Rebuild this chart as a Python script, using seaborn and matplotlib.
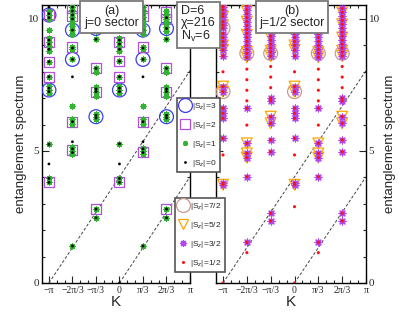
import numpy as np
import pandas as pd
import matplotlib
matplotlib.use("Agg")
import matplotlib.pyplot as plt
import seaborn as sns
from matplotlib.lines import Line2D
from matplotlib.ticker import MultipleLocator, FixedLocator

sns.set_style("ticks")
plt.rcParams["font.family"] = ["Liberation Sans", "DejaVu Sans"]
plt.rcParams["mathtext.fontset"] = "custom"
plt.rcParams["mathtext.rm"] = "Liberation Sans"
plt.rcParams["mathtext.it"] = "Liberation Sans:italic"

# ---------------- data ----------------
# momentum index k -> K = k*pi/3
K_TICK_IDX = [-3, -2, -1, 0, 1, 2, 3]
K_TICK_LABELS = ["\u2212\u03c0", "\u22122\u03c0/3", "\u2212\u03c0/3", "0", "\u03c0/3", "2\u03c0/3", "\u03c0"]
Y_TICKS = [0, 5, 10]
VELOCITY = 1.28
LINE_ORIGINS = [-np.pi, 0.0]

# panel (a): j=0 sector
A_SZ3 = {-3: [7.31, 10.15], -2: [8.47, 9.58], -1: [6.30, 9.64],
         0: [7.31, 10.15], 1: [8.47, 9.58], 2: [6.30, 9.64]}
A_SZ2 = {-3: [3.81, 7.81, 8.38, 9.14, 10.15], -2: [5.04, 6.11, 8.95, 10.1, 10.4],
         -1: [2.80, 7.25, 8.13, 10.0, 10.25],
         0: [3.81, 7.81, 8.40, 9.14, 10.15], 1: [4.96, 6.11, 8.95, 10.1, 10.4],
         2: [2.80, 7.25, 8.13, 10.0, 10.25]}
A_SZ1 = {-3: [3.81, 3.96, 5.25, 7.2, 7.31, 7.45, 7.81, 8.38, 8.80, 8.98, 9.14, 9.27, 9.58, 10.0, 10.15, 10.3],
         -2: [1.40, 4.87, 5.01, 5.14, 6.02, 6.2, 6.70, 8.47, 8.85, 8.95, 9.45, 9.6, 9.72, 9.93, 10.09, 10.22, 10.34, 10.47],
         -1: [2.47, 2.80, 6.2, 6.3, 6.42, 7.1, 7.25, 7.42, 8.0, 8.13, 9.23, 9.55, 9.7, 9.85, 10.0, 10.15, 10.3],
         0: [3.81, 3.96, 5.27, 7.2, 7.31, 7.45, 7.81, 8.40, 8.80, 8.98, 9.14, 9.27, 9.58, 10.0, 10.15, 10.3],
         1: [1.40, 4.87, 5.01, 5.10, 6.02, 6.2, 6.70, 8.47, 8.85, 8.95, 9.45, 9.6, 9.72, 9.93, 10.09, 10.22, 10.34, 10.47],
         2: [2.47, 2.80, 6.2, 6.3, 6.42, 7.1, 7.25, 7.42, 8.0, 8.13, 9.23, 9.55, 9.7, 9.85, 10.0, 10.15, 10.3]}
A_SZ0 = {-3: [3.81, 3.96, 4.51, 5.25, 7.25, 7.38, 7.81, 8.38, 8.85, 9.05, 9.2, 10.05, 10.2, 10.45],
         -2: [1.40, 4.94, 5.08, 5.35, 6.11, 7.81, 8.47, 8.9, 9.58, 10.0, 10.15, 10.3, 10.45],
         -1: [2.47, 2.80, 6.25, 6.35, 7.25, 7.35, 8.13, 9.23, 9.64, 10.05],
         0: [0.0, 3.81, 3.96, 4.51, 5.27, 7.25, 7.38, 7.81, 8.40, 8.85, 9.05, 9.2, 10.05, 10.2, 10.45],
         1: [1.40, 4.94, 5.08, 5.35, 6.11, 7.81, 8.47, 8.9, 9.58, 10.0, 10.15, 10.3, 10.45],
         2: [2.47, 2.80, 6.25, 6.35, 7.25, 7.35, 8.13, 9.23, 9.64, 10.05]}

# panel (b): j=1/2 sector
B_SZ72 = {-3: [7.25, 9.65], -2: [8.7], -1: [8.7], 0: [7.25, 9.65], 1: [8.7], 2: [8.7]}
B_SZ52 = {-3: [3.72, 7.25, 7.44, 8.83, 9.0, 9.77, 10.09, 10.47],
          -2: [4.75, 4.91, 5.29, 8.55, 8.75, 9.4, 9.9, 10.3],
          -1: [6.05, 6.3, 8.6, 8.8, 9.3, 9.8, 10.25],
          0: [3.72, 7.25, 7.44, 8.83, 9.0, 9.77, 10.09, 10.47],
          1: [4.75, 4.91, 5.29, 8.55, 8.75, 9.4, 9.9, 10.3],
          2: [6.05, 6.3, 8.6, 8.8, 9.3, 9.8, 10.25]}
B_SZ32 = {-3: [3.72, 3.78, 5.48, 6.24, 6.43, 6.62, 7.25, 7.44, 8.6, 8.83, 9.0, 9.15, 9.3, 9.45, 9.65, 9.77, 9.9, 10.09, 10.2, 10.35, 10.47],
          -2: [1.54, 4.03, 4.75, 4.91, 5.29, 6.62, 8.55, 8.7, 8.85, 9.0, 9.15, 9.3, 9.45, 9.6, 9.75, 9.9, 10.05, 10.2, 10.35, 10.5],
          -1: [2.35, 2.64, 4.97, 5.42, 6.05, 6.3, 6.9, 7.0, 8.6, 8.75, 8.9, 9.05, 9.2, 9.35, 9.5, 9.65, 9.8, 9.95, 10.1, 10.25, 10.4],
          0: [3.72, 3.78, 5.48, 6.24, 6.43, 6.62, 7.25, 7.44, 8.6, 8.83, 9.0, 9.15, 9.3, 9.45, 9.65, 9.77, 9.9, 10.09, 10.2, 10.35, 10.47],
          1: [1.54, 4.03, 4.75, 4.91, 5.29, 6.62, 8.55, 8.7, 8.85, 9.0, 9.15, 9.3, 9.45, 9.6, 9.75, 9.9, 10.05, 10.2, 10.35, 10.5],
          2: [2.35, 2.64, 4.97, 5.42, 6.05, 6.3, 6.9, 7.0, 8.6, 8.75, 8.9, 9.05, 9.2, 9.35, 9.5, 9.65, 9.8, 9.95, 10.1, 10.25, 10.4]}
B_SZ12 = {-3: [0.0, 2.89, 3.72, 3.78, 4.85, 5.48, 6.24, 6.43, 6.62, 7.25, 7.44, 8.0, 8.6, 8.83, 9.0, 9.15, 9.3, 9.45, 9.65, 9.77, 9.9, 10.09, 10.2, 10.35, 10.47],
          -2: [1.15, 1.54, 4.03, 4.75, 4.91, 5.29, 5.98, 6.62, 6.9, 7.3, 7.7, 8.1, 8.55, 8.7, 8.85, 9.0, 9.15, 9.3, 9.45, 9.6, 9.75, 9.9, 10.05, 10.2, 10.35, 10.5],
          -1: [2.35, 2.64, 4.97, 5.42, 6.05, 6.3, 6.9, 7.0, 7.4, 7.8, 8.2, 8.6, 8.75, 8.9, 9.05, 9.2, 9.35, 9.5, 9.65, 9.8, 9.95, 10.1, 10.25, 10.4],
          0: [0.0, 2.89, 3.72, 3.78, 4.85, 5.48, 6.24, 6.43, 6.62, 7.25, 7.44, 8.0, 8.6, 8.83, 9.0, 9.15, 9.3, 9.45, 9.65, 9.77, 9.9, 10.09, 10.2, 10.35, 10.47],
          1: [1.15, 1.54, 4.03, 4.75, 4.91, 5.29, 5.98, 6.62, 6.9, 7.3, 7.7, 8.1, 8.55, 8.7, 8.85, 9.0, 9.15, 9.3, 9.45, 9.6, 9.75, 9.9, 10.05, 10.2, 10.35, 10.5],
          2: [2.35, 2.64, 4.97, 5.42, 6.05, 6.3, 6.9, 7.0, 7.4, 7.8, 8.2, 8.6, 8.75, 8.9, 9.05, 9.2, 9.35, 9.5, 9.65, 9.8, 9.95, 10.1, 10.25, 10.4]}

A_LABELS = ["|S$_z$|=3", "|S$_z$|=2", "|S$_z$|=1", "|S$_z$|=0"]
B_LABELS = ["|S$_z$|=7/2", "|S$_z$|=5/2", "|S$_z$|=3/2", "|S$_z$|=1/2"]


def to_frame(d):
    rows = [(k * np.pi / 3, e) for k, es in d.items() for e in es]
    return pd.DataFrame(rows, columns=["K", "E"])


ASTER = (8, 2, 0)
A_STYLES = [
    dict(marker="o", s=100, facecolor="none", edgecolor="#3c3cf0", linewidth=0.9),
    dict(marker="s", s=52, facecolor="none", edgecolor="#b050dc", linewidth=0.9),
    dict(marker=ASTER, s=13, color="#2fb52f", linewidth=0.9),
    dict(marker="o", s=4, facecolor="black", edgecolor="none", linewidth=0),
]
B_STYLES = [
    dict(marker="o", s=100, facecolor="none", edgecolor="#c89a94", linewidth=0.9),
    dict(marker="v", s=60, facecolor="none", edgecolor="#ffa500", linewidth=0.9),
    dict(marker=ASTER, s=24, color="#b048f0", linewidth=0.9),
    dict(marker="o", s=5, facecolor="#ff1010", edgecolor="none", linewidth=0),
]
A_HANDLES = [
    Line2D([], [], ls="none", marker="o", ms=10, mfc="none", mec="#3c3cf0", mew=0.9),
    Line2D([], [], ls="none", marker="s", ms=7.2, mfc="none", mec="#b050dc", mew=0.9),
    Line2D([], [], ls="none", marker=ASTER, ms=3.6, color="#2fb52f", mew=0.9),
    Line2D([], [], ls="none", marker="o", ms=2, mfc="black", mec="none"),
]
B_HANDLES = [
    Line2D([], [], ls="none", marker="o", ms=10, mfc="none", mec="#c89a94", mew=0.9),
    Line2D([], [], ls="none", marker="v", ms=7.7, mfc="none", mec="#ffa500", mew=0.9),
    Line2D([], [], ls="none", marker=ASTER, ms=4.9, color="#b048f0", mew=0.9),
    Line2D([], [], ls="none", marker="o", ms=2.2, mfc="#ff1010", mec="none"),
]

fig = plt.figure(figsize=(4.11, 3.18), dpi=100)
axA = fig.add_axes([42 / 411, 35 / 318, 148 / 411, 278 / 318])
axB = fig.add_axes([216 / 411, 35 / 318, 150 / 411, 278 / 318])

SERIF = ["Liberation Serif", "DejaVu Serif"]

for ax, series, styles in [(axA, [A_SZ3, A_SZ2, A_SZ1, A_SZ0], A_STYLES),
                           (axB, [B_SZ72, B_SZ52, B_SZ32, B_SZ12], B_STYLES)]:
    for k0 in LINE_ORIGINS:
        ax.axline((k0, 0.0), slope=VELOCITY, color="#444444", lw=0.7,
                  ls=(0, (3, 2)), zorder=1)
    for d, st in zip(series, styles):
        df = to_frame(d)
        sns.scatterplot(data=df, x="K", y="E", ax=ax, legend=False, zorder=3, **st)
    ax.set_xlim(-3.45, np.pi)
    ax.set_ylim(0, 10.53)
    ax.set_xticks([k * np.pi / 3 for k in K_TICK_IDX])
    ax.set_xticklabels(K_TICK_LABELS, fontfamily=SERIF, fontsize=7)
    ax.xaxis.set_minor_locator(MultipleLocator(np.pi / 9))
    ax.yaxis.set_major_locator(FixedLocator(Y_TICKS))
    ax.yaxis.set_minor_locator(MultipleLocator(1))
    ax.set_yticklabels([str(t) for t in Y_TICKS], fontfamily=SERIF, fontsize=8)
    ax.tick_params(which="both", direction="in", top=True, right=True, width=0.8)
    ax.tick_params(which="major", length=5, pad=2)
    ax.tick_params(which="minor", length=2.5)
    for sp in ax.spines.values():
        sp.set_linewidth(1.0)
        sp.set_color("black")
    ax.set_xlabel("K", fontsize=11, labelpad=0)
    ax.set_ylabel("entanglement spectrum", fontsize=9.5, labelpad=1)

axB.tick_params(axis="y", labelleft=False, labelright=True)
axB.yaxis.set_label_position("right")
axB.set_ylabel("entanglement spectrum", fontsize=9.5, labelpad=3)

box = dict(boxstyle="square,pad=0.3", fc="white", ec="#7a7a7a", lw=1.3)
fig.text(111.5 / 411, 1 - 5 / 318, "(a)\nj=0 sector", ha="center", va="top",
         fontsize=9, linespacing=1.05, bbox=box, zorder=10)
fig.text(292 / 411, 1 - 5 / 318, "(b)\nj=1/2 sector", ha="center", va="top",
         fontsize=9, linespacing=1.05, bbox=box, zorder=10)
fig.text(181 / 411, 1 - 5 / 318, "D=6\n\u03c7=216\nN$_\\mathrm{v}$=6", ha="left", va="top",
         fontsize=9, linespacing=1.0, bbox=box, zorder=10)

for handles, labels, anchor in [(A_HANDLES, A_LABELS, (177 / 411, 1 - 98 / 318)),
                                (B_HANDLES, B_LABELS, (175 / 411, 1 - 198 / 318))]:
    leg = fig.legend(handles, labels, loc="upper left", bbox_to_anchor=anchor,
                     bbox_transform=fig.transFigure, frameon=True, fancybox=False,
                     edgecolor="#555555", framealpha=1, fontsize=6, handlelength=1.2,
                     handletextpad=0.2, borderpad=0.4, labelspacing=0.95,
                     borderaxespad=0)
    leg.get_frame().set_linewidth(1.2)
    leg.set_zorder(11)

fig.savefig("out.png", dpi=100)
